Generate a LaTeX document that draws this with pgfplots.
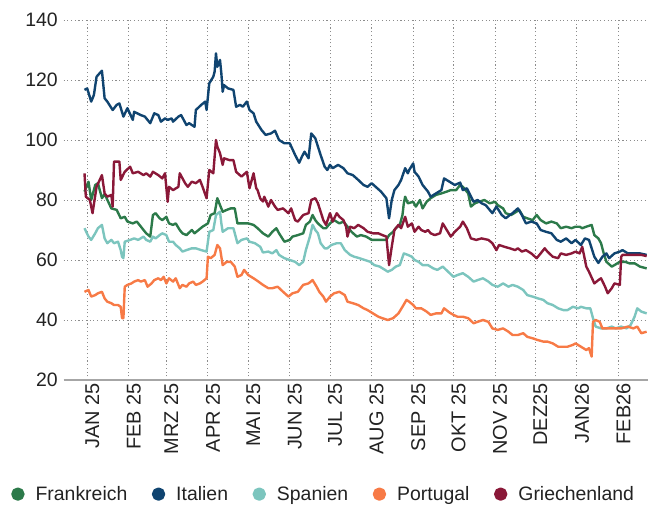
\documentclass[border=0pt]{standalone}
\usepackage{fontspec}
\setmainfont{Liberation Sans}
\usepackage{pgfplots}
\pgfplotsset{compat=1.18}
\definecolor{cFR}{RGB}{44,122,74}
\definecolor{cIT}{RGB}{16,68,112}
\definecolor{cES}{RGB}{124,197,190}
\definecolor{cPT}{RGB}{247,122,70}
\definecolor{cGR}{RGB}{138,24,56}
\definecolor{txt}{RGB}{34,34,34}
\begin{document}
\begin{tikzpicture}
\path[use as bounding box] (-63.7bp,-126bp) rectangle (592.3bp,380bp);
\begin{axis}[
  at={(0,0)}, anchor=south west,
  scale only axis, width=584.3bp, height=360bp,
  xmin=-17.5, xmax=418, ymin=20, ymax=140,
  axis line style={draw=none},
  major tick length=0pt,
  /pgf/number format/assume math mode=true,
  xtick={0,31,59,90,120,151,181,212,243,273,304,334,365,396},
  xticklabels={JAN 25,FEB 25,MRZ 25,APR 25,MAI 25,JUN 25,JUL 25,AUG 25,SEP 25,OKT 25,NOV 25,DEZ25,JAN26,FEB26},
  xticklabel style={rotate=90, anchor=east, font=\fontsize{20}{21}\selectfont, text=txt, yshift=-5bp},
  ytick={40,60,80,100,120,140},
  extra y ticks={20},
  extra y tick style={major grid style={solid, draw=black!35, line width=1.4bp}},
  yticklabel style={font=\fontsize{19.5}{20}\selectfont, text=txt, xshift=-2.5bp},
  grid=major,
  major grid style={draw=black!45, line width=0.9bp, dash pattern=on 1.1bp off 2.6bp},
  legend columns=5,
  legend style={draw=none, fill=none, at={(-0.0953,-0.317)}, anchor=west,
    font=\fontsize{19.5}{20}\selectfont, text=txt,
    /tikz/every odd column/.append style={column sep=9bp},
    /tikz/every even column/.append style={column sep=22.5bp}},
  legend image code/.code={\fill[#1] (0bp,0bp) circle (5.5bp);},
  every axis plot/.append style={line width=2.4bp, line join=round, mark=none},
]
\addplot[color=cFR] coordinates {
(-2,82.8)(1,86.1)(3,80)(6,85)(8,85.6)(11,80.6)(13,82)(18,77.2)(22,76.7)(25,73.9)(28,74.4)(30,72.8)(34,72.2)(37,72.8)(39,71.7)(42,70)(44,68.9)(47,67.8)(49,75)(51,75.6)(54,73.9)(56,73.3)(59,74.4)(61,72.2)(64,71.7)(66,72.2)(69,70)(71,68.9)(74,68.3)(78,70)(80,68.9)(83,70)(86,71.1)(90,72.2)(92,75)(95,75.6)(97,80.6)(99,78.3)(101,76.1)(104,76.7)(107,77.2)(110,77.2)(112,72.2)(116,72.2)(120,72.2)(124,71.7)(127,70.6)(131,68.9)(135,67.8)(138,69.4)(141,70.6)(143,68.9)(147,66.1)(151,66.7)(153,67.8)(157,68.3)(161,68.9)(163,71.7)(166,72.8)(168,75)(170,73.3)(172,72.2)(176,70.6)(178,70.6)(181,72.2)(184,73.3)(188,72.2)(191,72.8)(193,71.7)(197,69.4)(201,67.8)(204,68.3)(208,67.8)(212,66.7)(215,66.7)(219,66.7)(223,66.7)(225,68.3)(228,69.4)(230,70.6)(233,71.7)(235,75)(236,78.9)(237,81.1)(239,78.9)(243,79.4)(245,77.8)(248,80)(250,77.2)(253,79.4)(256,80.6)(260,81.7)(264,82.2)(268,82.8)(271,83.3)(275,83.3)(278,85)(280,84.4)(284,82.2)(286,77.8)(289,78.9)(292,79.4)(296,80)(300,78.9)(304,79.4)(306,78.3)(310,77.2)(312,75.6)(316,75)(320,76.1)(322,76.7)(325,74.4)(328,73.9)(332,73.3)(335,75)(338,73.3)(342,72.2)(346,72.8)(350,72.2)(353,70.6)(357,71.1)(361,70.6)(364,71.1)(367,71.1)(369,70.6)(372,71.1)(376,71.7)(378,68.3)(381,67.2)(383,65.6)(385,62.2)(387,59.4)(391,57.8)(393,58.3)(397,59.4)(401,59.4)(404,58.9)(408,58.9)(412,57.8)(417,57.2)
};
\addlegendentry{Frankreich}
\addplot[color=cIT] coordinates {
(-2,116.7)(0,117.2)(3,112.8)(5,115)(7,121.1)(11,123.1)(13,113.9)(15,112.8)(19,110)(22,111.7)(24,112.2)(27,107.8)(30,110.6)(34,106.7)(35,109.4)(40,108.3)(43,107.8)(47,105.6)(50,108.9)(53,108.3)(55,106.1)(58,107.2)(60,106.7)(63,107.2)(64,106.1)(68,107.8)(70,108.3)(74,105)(76,105.6)(80,104.4)(81,110)(85,111.7)(88,112.8)(89,110)(91,118.9)(94,121.1)(95,122.8)(96,128.9)(97,124.4)(99,126.7)(100,122.2)(101,116.1)(102,118.3)(105,117.2)(109,116.7)(111,111.1)(114,111.7)(116,111.1)(119,112.8)(121,110)(124,108.9)(126,106.1)(130,103.3)(133,101.7)(137,102.2)(140,103.1)(143,100)(147,98.9)(151,98.9)(155,95)(158,92.4)(160,94.4)(162,96.1)(165,93.9)(167,102.2)(170,100.6)(172,97.8)(174,95)(177,91.1)(179,90)(181,91.7)(183,90.6)(187,91.7)(191,90.6)(194,88.9)(198,88.3)(202,86.7)(206,85)(209,84.4)(212,85.6)(215,84.4)(219,82.8)(223,80.6)(225,73.9)(227,80)(229,83.3)(232,85)(234,86.7)(237,90.6)(239,88.9)(240,90)(243,92.2)(244,89.4)(247,87.8)(250,85)(254,82.8)(256,81.1)(260,82.2)(264,83.3)(266,87.2)(270,86.1)(274,85)(278,85.8)(280,83.3)(283,83.9)(288,79.4)(291,80)(294,78.9)(297,78.3)(300,76.7)(302,75.6)(305,77.8)(309,75)(312,73.9)(315,75)(317,75.6)(321,77.2)(324,75)(327,72.2)(331,72.8)(335,72.2)(338,70)(342,69.4)(346,68.9)(350,66.7)(353,66.1)(357,67.2)(361,65.6)(364,66.7)(368,65)(371,67.2)(374,66.7)(378,61.1)(381,59)(384,61.1)(387,62.2)(389,60.6)(393,62.2)(397,62.8)(399,63.3)(403,62.2)(408,62.2)(412,62.2)(417,61.7)
};
\addlegendentry{Italien}
\addplot[color=cES] coordinates {
(-2,70.6)(1,67.8)(3,66.7)(6,68.9)(8,70.6)(11,71.7)(13,67.2)(15,65.6)(18,66.7)(20,65.6)(23,66.1)(25,63.3)(26,61.1)(27,60.6)(28,66.1)(32,66.7)(35,67.2)(38,66.7)(42,67.8)(44,66.7)(47,66.1)(49,67.8)(51,67.2)(54,68.3)(56,68.9)(59,68.3)(61,66.1)(64,66.1)(66,65)(69,63.9)(71,62.8)(74,63.3)(78,63.9)(81,63.9)(85,63.3)(89,62.8)(91,69.4)(94,70)(96,75)(99,76.1)(100,72.2)(101,69.4)(105,70.6)(109,70.6)(112,65.6)(115,66.7)(119,67.2)(121,66.1)(125,65.6)(129,64.4)(131,62.5)(135,62.8)(138,62.2)(141,63.3)(143,61.7)(147,60.6)(151,60)(155,59.4)(158,58.3)(161,59.4)(163,63.3)(166,67.8)(168,71.7)(170,70)(172,68.9)(174,65.6)(177,63.9)(179,63.9)(182,65)(186,65.6)(189,65.6)(192,63.3)(196,61.7)(199,61.1)(203,60.6)(207,60)(211,59.4)(214,58.3)(218,57.8)(222,56.7)(224,56.1)(227,56.7)(230,57.8)(233,58.3)(236,62.2)(239,61.7)(242,61.1)(244,60)(247,59.4)(250,58.3)(254,58.3)(258,57.2)(261,56.7)(265,57.8)(269,56.1)(273,54.4)(276,55)(280,55.6)(284,54.4)(288,52.8)(291,53.3)(295,53.9)(299,52.8)(302,51.7)(306,51.1)(310,52.2)(314,51.1)(317,51.7)(321,51.1)(325,50)(328,48.3)(332,47.8)(336,47.2)(340,46.7)(343,45.6)(347,45)(351,43.9)(355,43.3)(358,43.3)(362,44.4)(366,43.9)(368,44.4)(372,43.9)(375,43.9)(377,40.6)(379,37.8)(383,37.2)(387,37.2)(391,37.8)(394,37.2)(398,37.8)(402,37.2)(405,38.3)(408,41.1)(410,43.9)(413,42.8)(417,42.2)
};
\addlegendentry{Spanien}
\addplot[color=cPT] coordinates {
(-2,49.4)(1,50)(3,47.8)(6,48.3)(8,48.9)(11,49.4)(13,47.2)(15,46.1)(18,45.6)(20,45)(23,45)(25,44.4)(26,40.6)(27,40.6)(28,51.1)(30,51.7)(33,52.2)(35,52.8)(38,53.3)(40,52.8)(43,53.3)(45,51.1)(48,52.2)(50,53.3)(53,53.9)(55,53.3)(57,54.4)(59,52.2)(61,53.9)(64,52.8)(66,53.9)(69,50.6)(71,51.7)(74,51.1)(76,52.2)(79,52.8)(81,51.7)(84,52.2)(86,52.8)(89,53.9)(90,61.1)(92,60.6)(95,61.7)(97,65)(99,63.9)(100,61.1)(101,58.3)(104,59.4)(107,59.4)(110,57.8)(112,54.4)(115,55)(117,56.7)(120,55)(124,53.9)(127,53)(131,51.7)(135,50.6)(138,50.6)(142,51.1)(146,49.4)(150,47.8)(153,48.9)(157,49.4)(161,51.7)(165,52.2)(168,53.3)(171,51.1)(173,49.4)(176,47.8)(178,46.1)(181,47.8)(184,48.9)(188,49.4)(192,48.3)(194,46.1)(198,45.6)(202,45)(206,43.9)(209,43.3)(213,42.2)(217,41.1)(220,40.6)(224,40)(228,40.6)(232,42.2)(235,44.4)(238,46.7)(240,46.1)(243,45)(245,43.9)(249,43.9)(253,42.8)(256,41.7)(260,42.2)(264,42.2)(266,43.9)(270,42.5)(273,41.7)(276,41.1)(280,41.1)(284,40.6)(288,38.9)(291,39.4)(295,40)(299,39.4)(302,37.2)(306,36.7)(310,37.2)(314,36.1)(317,35)(321,35)(325,35.6)(328,34.4)(332,33.9)(336,33.3)(340,32.8)(343,32.8)(347,32.2)(351,31.1)(355,31.1)(358,31.1)(362,31.7)(364,32.2)(368,31.1)(372,30)(374,30.6)(376,27.8)(377,39.4)(379,40)(382,39.4)(384,37.2)(388,37.2)(393,37.2)(398,37.2)(403,37.8)(407,37.2)(410,37.8)(413,35.6)(417,36.1)
};
\addlegendentry{Portugal}
\addplot[color=cGR] coordinates {
(-2,88.9)(-1,81.1)(2,80)(4,75.6)(7,84.4)(11,88.3)(13,82.2)(15,81.1)(18,81.7)(19,77.8)(20,92.8)(24,92.8)(25,86.7)(28,89.4)(32,91.1)(34,88.9)(38,89.4)(42,88.3)(44,88.9)(47,87.8)(49,89.4)(53,88.3)(56,87.2)(58,88.9)(60,79.4)(61,84.4)(64,83.3)(68,84.4)(69,88.9)(73,85.6)(75,84.4)(78,86.1)(81,85.6)(84,86.7)(86,84.4)(89,80.6)(91,90)(94,88.9)(96,100)(97,97.8)(99,95.6)(101,91.7)(102,93.9)(106,93.3)(109,93.3)(111,89.4)(115,87.8)(119,89.4)(121,83.9)(124,88.9)(126,83.9)(127,83.3)(129,80.5)(131,79.5)(132,81.1)(135,77.8)(137,80)(140,77.8)(142,76.7)(146,77.2)(150,75.6)(152,77.2)(155,73.3)(157,72.8)(161,75)(165,75.6)(167,80)(170,80.6)(172,78.9)(176,73.3)(178,71.7)(181,75.6)(183,72.8)(186,75.6)(188,74.4)(191,73.3)(193,71.1)(194,67.8)(196,71.1)(199,70.6)(202,71.7)(206,70.6)(209,69.4)(213,68.9)(217,68.9)(220,68.3)(223,67.8)(225,58.3)(227,64.4)(229,70)(232,71.7)(234,70.6)(237,74.4)(239,71.1)(242,72.2)(244,69.4)(247,71.1)(249,70)(252,69.4)(254,70)(256,68.9)(259,68.3)(263,68.9)(265,72.2)(268,70)(271,67.8)(274,69.4)(278,71.1)(280,72.8)(283,70.6)(286,67.2)(290,66.7)(294,67.2)(299,66.7)(302,65.6)(305,63.3)(307,65)(311,64.4)(315,63.9)(319,63.3)(321,63.9)(324,62.8)(327,63.3)(331,62.2)(335,60.6)(338,62.2)(341,63.9)(343,62.8)(347,61.1)(351,60.6)(353,62.2)(357,61.7)(361,62.2)(364,62.8)(367,62.2)(369,64.4)(372,57.8)(374,56.1)(378,52.2)(381,53.3)(383,53.9)(386,51.1)(388,48.9)(391,50.6)(393,52.2)(397,51.7)(398,61.1)(399,61.7)(403,61.7)(408,61.7)(413,61.7)(417,61.3)
};
\addlegendentry{Griechenland}
\end{axis}
\end{tikzpicture}
\end{document}
